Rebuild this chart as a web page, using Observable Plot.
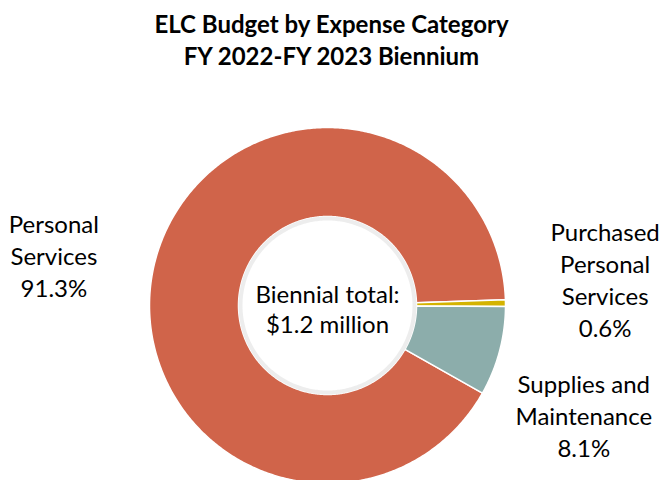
<!DOCTYPE html>
<html>
<head>
<meta charset="utf-8">
<script src="https://cdn.jsdelivr.net/npm/d3@7"></script>
<script src="https://cdn.jsdelivr.net/npm/@observablehq/plot@0.6"></script>
<style>
  html, body { margin: 0; padding: 0; background: #fff; }
  #wrap { width: 663px; font-family: Lato, "Noto Sans", sans-serif; color: #000; }
  #title { text-align: center; font-weight: bold; font-size: 24px; line-height: 32px; padding-top: 8px; height: 64px; }
  svg { display: block; }
</style>
</head>
<body>
<div id="wrap">
  <div id="title">ELC Budget by Expense Category<br>FY 2022-FY 2023 Biennium</div>
  <div id="chart"></div>
</div>
<script>
// ---- data ----
const categories = ["Personal Services", "Purchased Personal Services", "Supplies and Maintenance"];
const labelLines = ["Personal\nServices", "Purchased\nPersonal\nServices", "Supplies and\nMaintenance"];
const shares = [91.3, 0.6, 8.1];   // percent of biennial total
const centerLines = ["Biennial total:", "$1.2 million"];
const colors = ["#D0644A", "#D4B300", "#8CADAB"];

// ---- layout ----
const W = 663, H = 408;
const cx = 327, cy = 233;          // pixel position of donut centre inside svg
const R = 178, r = 89;
const startDeg = 119.5;
const labelK = 1.56;
const labelNudge = [[-4, -16], [0, 23], [-12, -38]];   // px offsets for label placement

const pie = d3.pie().sort(null).value(d => d.share)
  .startAngle(startDeg * Math.PI / 180)
  .endAngle(startDeg * Math.PI / 180 + 2 * Math.PI);
const rows = categories.map((c, i) => ({category: c, share: shares[i], lines: labelLines[i]}));
const arcs = pie(rows);

const poly = [];
arcs.forEach(a => {
  const n = Math.max(4, Math.ceil((a.endAngle - a.startAngle) / 0.01));
  for (let k = 0; k <= n; k++) {
    const t = a.startAngle + (a.endAngle - a.startAngle) * k / n;
    poly.push({category: a.data.category, x: R * Math.sin(t), y: R * Math.cos(t)});
  }
  for (let k = n; k >= 0; k--) {
    const t = a.startAngle + (a.endAngle - a.startAngle) * k / n;
    poly.push({category: a.data.category, x: r * Math.sin(t), y: r * Math.cos(t)});
  }
});

const ring = [];
for (let k = 0; k <= 360; k++) {
  const t = k * Math.PI / 180;
  ring.push({x: (r - 2) * Math.sin(t), y: (r - 2) * Math.cos(t)});
}

const labels = arcs.map((a, i) => {
  const m = (a.startAngle + a.endAngle) / 2;
  return {
    x: labelK * R * Math.sin(m) + labelNudge[i][0],
    y: labelK * R * Math.cos(m) + labelNudge[i][1],
    text: a.data.lines + "\n" + a.data.share.toFixed(1) + "%"
  };
});

const plot = Plot.plot({
  width: W, height: H,
  margin: 0,
  x: {domain: [-cx, W - cx], axis: null},
  y: {domain: [cy - H, cy], axis: null},
  color: {domain: categories, range: colors},
  style: {fontFamily: "Lato, 'Noto Sans', sans-serif", background: "#fff"},
  marks: [
    Plot.line(poly, {x: "x", y: "y", z: "category", fill: "category", stroke: "#fff", strokeWidth: 1.5, curve: "linear-closed"}),
    Plot.line(ring, {x: "x", y: "y", stroke: "#d6d6d6", strokeWidth: 4, strokeOpacity: 0.45}),
    Plot.text(labels, {x: "x", y: "y", text: "text", fontSize: 24, lineHeight: 1.33, fill: "#000"}),
    Plot.text([{x: 0, y: 0, text: centerLines.join("\n")}], {x: "x", y: "y", text: "text", dy: 3, fontSize: 24, lineHeight: 1.25, fill: "#000"})
  ]
});
document.getElementById("chart").appendChild(plot);
</script>
</body>
</html>
